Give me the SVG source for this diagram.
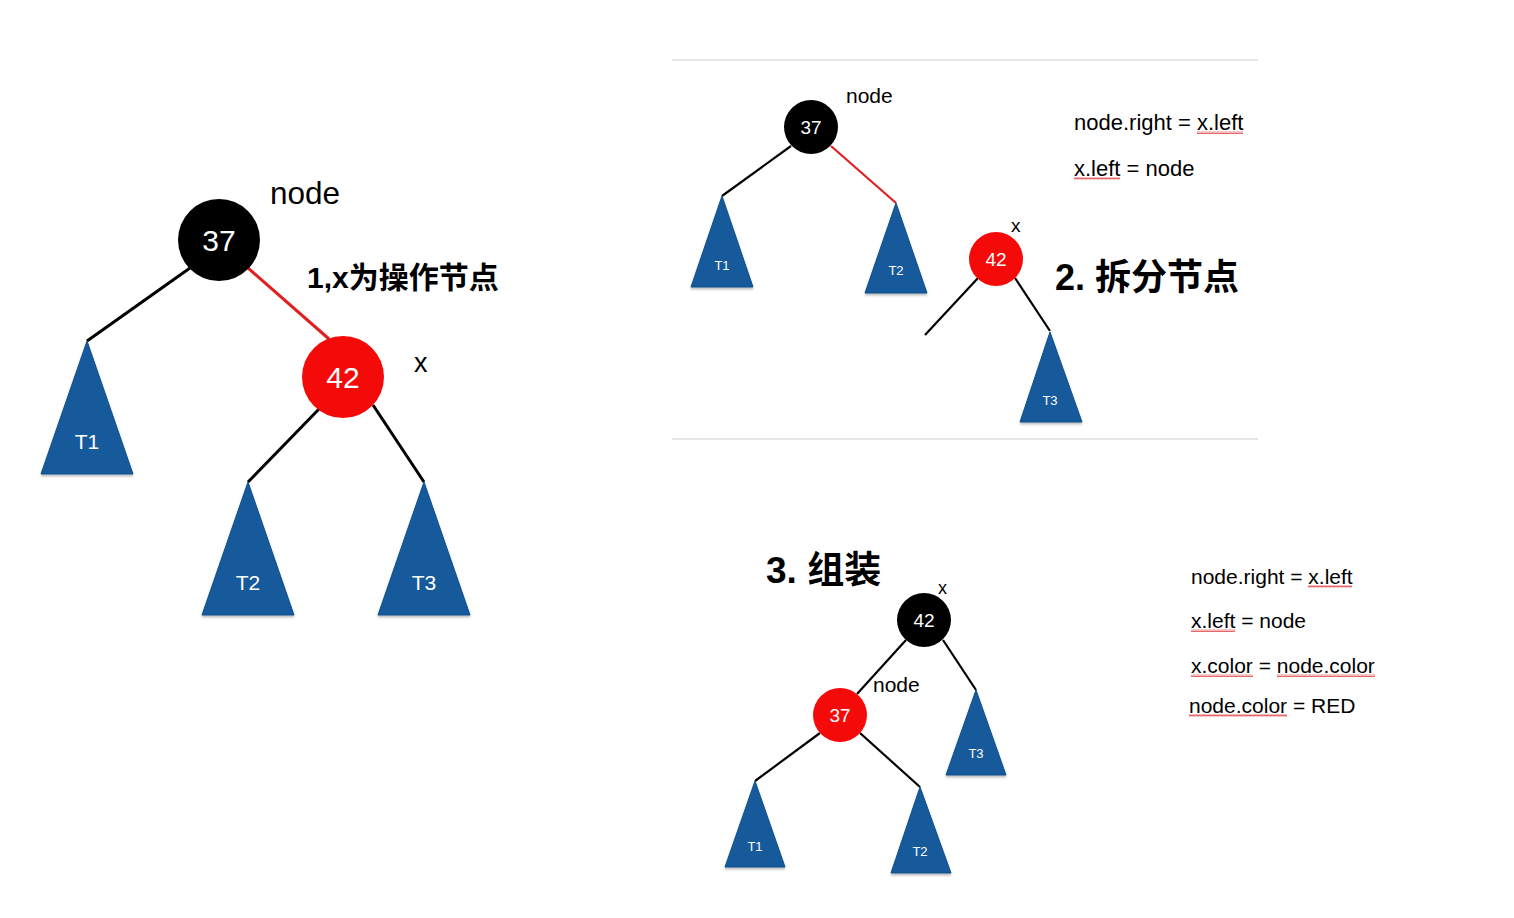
<svg xmlns="http://www.w3.org/2000/svg" width="1514" height="918" viewBox="0 0 1514 918">
<defs>
<style>
.lbl{font-family:"Liberation Sans",sans-serif;fill:#000;}
.num{font-family:"Liberation Sans",sans-serif;fill:#fff;text-anchor:middle;}
.tri{fill:#145a9c;stroke:#0f4f8c;stroke-width:1;}
.tl{font-family:"Liberation Sans",sans-serif;fill:#fff;text-anchor:middle;}
.blk{fill:#000;}
.red{fill:#f50a0a;}
.e{stroke:#000;stroke-width:3;fill:none;}
.er{stroke:#e02020;stroke-width:3;fill:none;}
.e2{stroke:#000;stroke-width:2.2;fill:none;}
.er2{stroke:#e02020;stroke-width:2.2;fill:none;}
.cap{font-family:"Liberation Sans","Noto Sans CJK SC",sans-serif;font-weight:bold;fill:#000;}
.sep{stroke:#dcdcdc;stroke-width:1.5;}
.sq{fill:url(#squig);}
</style>
<pattern id="squig" width="4" height="3" patternUnits="userSpaceOnUse">
<polyline points="0,2.5 1,0.5 2,2.5 3,0.5 4,2.5" fill="none" stroke="#e04040" stroke-width="0.8"/>
</pattern>
<filter id="sh" x="-10%" y="-10%" width="120%" height="130%">
<feDropShadow dx="0" dy="2" stdDeviation="1.2" flood-color="#000" flood-opacity="0.25"/>
</filter>
</defs>
<rect width="1514" height="918" fill="#fff"/>

<line class="sep" x1="672" y1="60" x2="1258" y2="60"/>
<line class="sep" x1="672" y1="439" x2="1258" y2="439"/>

<g id="connectors">
<line class="e" x1="190" y1="268" x2="87" y2="341"/>
<line class="er" x1="248" y1="268" x2="329" y2="339"/>
<line class="e" x1="320" y1="408" x2="248" y2="482"/>
<line class="e" x1="373" y1="405" x2="424" y2="482"/>

<line class="e2" x1="791" y1="146" x2="722" y2="196"/>
<line class="er2" x1="831" y1="146" x2="896" y2="203"/>
<line class="e2" x1="978" y1="278" x2="925" y2="335"/>
<line class="e2" x1="1015" y1="278" x2="1050" y2="331"/>

<line class="e2" x1="906" y1="640" x2="857" y2="694"/>
<line class="e2" x1="943" y1="640" x2="976" y2="690"/>
<line class="e2" x1="820" y1="733" x2="755" y2="781"/>
<line class="e2" x1="860" y1="733" x2="920" y2="787"/>
</g>

<!-- Panel 1 -->
<g id="p1-node37">
<circle class="blk" cx="219" cy="240" r="41"/>
<text class="num" x="219" y="251" font-size="30">37</text>
</g>
<g id="p1-node42">
<circle class="red" cx="343" cy="377" r="41"/>
<text class="num" x="343" y="388" font-size="30">42</text>
</g>
<g id="p1-T1">
<polygon class="tri" filter="url(#sh)" points="87,341 41,474 133,474"/>
<text class="tl" x="87" y="449" font-size="21">T1</text>
</g>
<g id="p1-T2">
<polygon class="tri" filter="url(#sh)" points="248,482 202,615 294,615"/>
<text class="tl" x="248" y="590" font-size="21">T2</text>
</g>
<g id="p1-T3">
<polygon class="tri" filter="url(#sh)" points="424,482 378,615 470,615"/>
<text class="tl" x="424" y="590" font-size="21">T3</text>
</g>
<g id="p1-labels">
<text class="lbl" x="270" y="204" font-size="31.5">node</text>
<text class="lbl" x="414" y="372" font-size="27">x</text>
<text class="cap" x="307" y="288" font-size="30">1,x为操作节点</text>
</g>

<!-- Panel 2 -->
<g id="p2-node37">
<circle class="blk" cx="811" cy="127" r="27"/>
<text class="num" x="811" y="134" font-size="19">37</text>
</g>
<g id="p2-node42">
<circle class="red" cx="996" cy="259" r="27"/>
<text class="num" x="996" y="266" font-size="19">42</text>
</g>
<g id="p2-T1">
<polygon class="tri" filter="url(#sh)" points="722,196 691,287 753,287"/>
<text class="tl" x="722" y="270" font-size="13">T1</text>
</g>
<g id="p2-T2">
<polygon class="tri" filter="url(#sh)" points="896,203 865,293 927,293"/>
<text class="tl" x="896" y="275" font-size="13">T2</text>
</g>
<g id="p2-T3">
<polygon class="tri" filter="url(#sh)" points="1050,332 1020,422 1082,422"/>
<text class="tl" x="1050" y="405" font-size="13">T3</text>
</g>
<g id="p2-labels">
<text class="lbl" x="846" y="103" font-size="21">node</text>
<text class="lbl" x="1011" y="232" font-size="19">x</text>
<text class="lbl" x="1074" y="130" font-size="22">node.right = x.left</text>
<rect class="sq" x="1197" y="131" width="46" height="3"/>
<text class="lbl" x="1074" y="176" font-size="22">x.left = node</text>
<rect class="sq" x="1074" y="177" width="46" height="3"/>
<text class="cap" x="1055" y="290" font-size="36">2. 拆分节点</text>
</g>

<!-- Panel 3 -->
<g id="p3-node42">
<circle class="blk" cx="924" cy="620" r="27"/>
<text class="num" x="924" y="627" font-size="19">42</text>
</g>
<g id="p3-node37">
<circle class="red" cx="840" cy="715" r="27"/>
<text class="num" x="840" y="722" font-size="19">37</text>
</g>
<g id="p3-T1">
<polygon class="tri" filter="url(#sh)" points="755,781 725,867 785,867"/>
<text class="tl" x="755" y="851" font-size="13">T1</text>
</g>
<g id="p3-T2">
<polygon class="tri" filter="url(#sh)" points="920,787 891,873 951,873"/>
<text class="tl" x="920" y="856" font-size="13">T2</text>
</g>
<g id="p3-T3">
<polygon class="tri" filter="url(#sh)" points="976,690 946,775 1006,775"/>
<text class="tl" x="976" y="758" font-size="13">T3</text>
</g>
<g id="p3-labels">
<text class="cap" x="766" y="583" font-size="37">3. 组装</text>
<text class="lbl" x="938" y="594" font-size="18">x</text>
<text class="lbl" x="873" y="692" font-size="21">node</text>
<text class="lbl" x="1191" y="584" font-size="21">node.right = x.left</text>
<rect class="sq" x="1308" y="585" width="44" height="3"/>
<text class="lbl" x="1191" y="628" font-size="21">x.left = node</text>
<rect class="sq" x="1191" y="629" width="44" height="3"/>
<text class="lbl" x="1191" y="673" font-size="21">x.color = node.color</text>
<rect class="sq" x="1191" y="674" width="62" height="3"/>
<rect class="sq" x="1277" y="674" width="98" height="3"/>
<text class="lbl" x="1189" y="713" font-size="21">node.color = RED</text>
<rect class="sq" x="1189" y="714" width="98" height="3"/>
</g>
</svg>
